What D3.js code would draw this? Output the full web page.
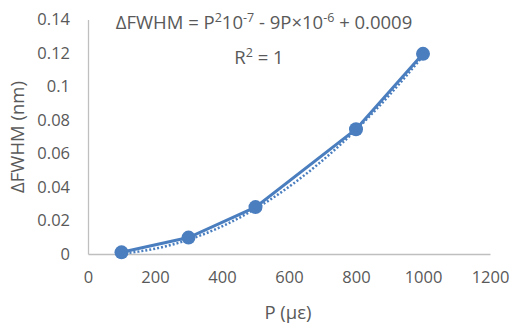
<!DOCTYPE html>
<html>
<head>
<meta charset="utf-8">
<script src="https://cdn.jsdelivr.net/npm/d3@7"></script>
<style>
  body { margin: 0; background: #fff; }
  text { font-family: "Open Sans", "Noto Sans", sans-serif; fill: #595959; }
</style>
</head>
<body>
<svg></svg>
<script>
const w = 511;
const h = 323;

// data
const strain = [100, 300, 500, 800, 1000];
const dFwhm = [0.001, 0.0098, 0.028, 0.0745, 0.1195];
const xTicks = [0, 200, 400, 600, 800, 1000, 1200];
const yTicks = [0, 0.02, 0.04, 0.06, 0.08, 0.1, 0.12, 0.14];

const blue = '#4a7ebf';
const axisColor = '#bfbfbf';

const svg = d3.select('svg')
    .attr('width', w)
    .attr('height', h);

// scales
const x = d3.scaleLinear().domain([0, 1200]).range([88, 490]);
const y = d3.scaleLinear().domain([0, 0.14]).range([254, 19.5]);

// axes
const xAxis = svg.append('g')
    .attr('transform', 'translate(0,' + y(0) + ')')
    .call(d3.axisBottom(x).tickValues(xTicks).tickSize(0).tickPadding(17)
        .tickFormat(d3.format('d')));
const yAxis = svg.append('g')
    .attr('transform', 'translate(' + x(0) + ',0)')
    .call(d3.axisLeft(y).tickValues(yTicks).tickSize(0).tickPadding(18)
        .tickFormat(d => String(+d.toFixed(2))));

[xAxis, yAxis].forEach(g => {
    g.select('.domain').attr('stroke', axisColor).attr('stroke-width', 1.3);
    g.selectAll('text').attr('font-size', 16.5).style('font-family', '"Open Sans", sans-serif').attr('fill', '#595959');
});

// polynomial (order 2) trendline by least squares
let s = [0, 0, 0, 0, 0], t = [0, 0, 0];
strain.forEach((p, i) => {
    for (let k = 0; k < 5; k++) s[k] += Math.pow(p, k);
    for (let k = 0; k < 3; k++) t[k] += Math.pow(p, k) * dFwhm[i];
});
const M = [[s[0], s[1], s[2], t[0]], [s[1], s[2], s[3], t[1]], [s[2], s[3], s[4], t[2]]];
for (let i = 0; i < 3; i++) {
    for (let j = i + 1; j < 3; j++) {
        const f = M[j][i] / M[i][i];
        for (let k = i; k < 4; k++) M[j][k] -= f * M[i][k];
    }
}
const c = [0, 0, 0];
for (let i = 2; i >= 0; i--) {
    let v = M[i][3];
    for (let k = i + 1; k < 3; k++) v -= M[i][k] * c[k];
    c[i] = v / M[i][i];
}
const trendX = d3.range(100, 1001, 10);
svg.append('path')
    .datum(trendX)
    .attr('fill', 'none')
    .attr('stroke', blue)
    .attr('stroke-width', 2.5)
    .attr('stroke-dasharray', '2,2')
    .attr('d', d3.line().x(d => x(d)).y(d => y(c[0] + c[1] * d + c[2] * d * d) + 1.5));

// series line
const pts = strain.map((p, i) => [p, dFwhm[i]]);
svg.append('path')
    .datum(pts)
    .attr('fill', 'none')
    .attr('stroke', blue)
    .attr('stroke-width', 3)
    .attr('d', d3.line().x(d => x(d[0])).y(d => y(d[1])));

svg.selectAll('circle')
    .data(pts)
    .enter()
    .append('circle')
    .attr('cx', d => x(d[0]))
    .attr('cy', d => y(d[1]))
    .attr('r', 7)
    .attr('fill', blue);

// equation text
const eq = svg.append('text')
    .attr('x', 264)
    .attr('y', 29)
    .attr('text-anchor', 'middle')
    .attr('font-size', 18.5);
eq.append('tspan').text('ΔFWHM = P');
eq.append('tspan').attr('font-size', 12.5).attr('dy', -7).text('2');
eq.append('tspan').attr('dy', 7).text('10');
eq.append('tspan').attr('font-size', 12.5).attr('dy', -7).text('-7');
eq.append('tspan').attr('dy', 7).text(' - 9P×10');
eq.append('tspan').attr('font-size', 12.5).attr('dy', -7).text('-6');
eq.append('tspan').attr('dy', 7).text(' + 0.0009');

const r2 = svg.append('text')
    .attr('x', 259)
    .attr('y', 64)
    .attr('text-anchor', 'middle')
    .attr('font-size', 18.5);
r2.append('tspan').text('R');
r2.append('tspan').attr('font-size', 12.5).attr('dy', -7).text('2');
r2.append('tspan').attr('dy', 7).text(' = 1');

// axis titles
svg.append('text')
    .attr('x', 288)
    .attr('y', 319)
    .attr('text-anchor', 'middle')
    .attr('font-size', 18.5)
    .text('P (με)');
svg.append('text')
    .attr('transform', 'translate(24,137) rotate(-90)')
    .attr('text-anchor', 'middle')
    .attr('font-size', 18.5)
    .text('ΔFWHM (nm)');
</script>
</body>
</html>
